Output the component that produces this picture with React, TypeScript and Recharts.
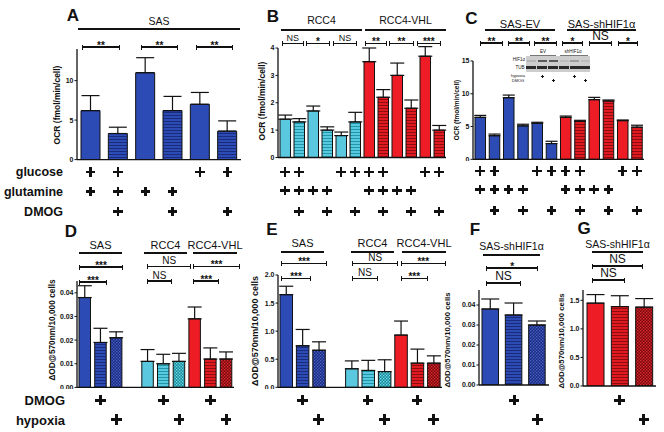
import React from "react"
import { BarChart, Bar, XAxis, YAxis, ErrorBar, Cell } from "recharts"

const FONT = "'Liberation Sans', Arial, Helvetica, sans-serif"

// ---- data ----
// A: SAS OCR (fmol/min/cell)
const aMeans = [6.2, 3.3, 11.0, 6.2, 7.0, 3.6]
const aTops = [8.1, 4.1, 12.9, 8.0, 8.5, 4.9]
// B: RCC4 (6) then RCC4-VHL (6)
const bMeans = [1.4, 1.3, 1.7, 1.0, 0.8, 1.3, 3.5, 2.2, 3.0, 1.8, 3.7, 1.0]
const bTops = [1.55, 1.42, 1.88, 1.12, 0.93, 1.65, 4.0, 2.48, 3.45, 2.1, 4.05, 1.17]
// C: SAS-EV (6) then SAS-shHIF1a (6)
const cMeans = [6.4, 3.6, 9.4, 5.1, 5.5, 2.4, 6.4, 5.8, 9.1, 8.9, 5.9, 4.9]
const cTops = [6.7, 3.85, 9.8, 5.35, 5.65, 2.75, 6.6, 5.95, 9.45, 9.05, 6.0, 5.2]
// D/E: SAS, gap, RCC4, RCC4-VHL
const dMeans = [0.038, 0.019, 0.021, null, 0.011, 0.010, 0.011, 0.029, 0.012, 0.012]
const dTops = [0.043, 0.025, 0.0235, null, 0.016, 0.014, 0.0144, 0.034, 0.0167, 0.015]
const eMeans = [1.65, 0.74, 0.66, null, 0.33, 0.30, 0.28, 0.93, 0.43, 0.43]
const eTops = [1.80, 1.03, 0.81, null, 0.47, 0.48, 0.49, 1.18, 0.68, 0.56]
// F/G: SAS-shHIF1a
const fMeans = [0.038, 0.035, 0.030]
const fTops = [0.043, 0.041, 0.032]
const gMeans = [1.45, 1.39, 1.38]
const gTops = [1.60, 1.58, 1.53]

// condition rows
const glucoseA = ["+", "+", "", "", "+", "+"]
const glutamineA = ["+", "+", "+", "+", "", ""]
const dmogA = ["", "+", "", "+", "", "+"]
const glucoseBC = [...glucoseA, ...glucoseA]
const glutamineBC = [...glutamineA, ...glutamineA]
const dmogBC = [...dmogA, ...dmogA]
const dmogDE = ["", "+", "", "", "", "+", "", "", "+", ""]
const hypoxiaDE = ["", "", "+", "", "", "", "+", "", "", "+"]
const dmogFG = ["", "+", ""]
const hypoxiaFG = ["", "", "+"]

// ---- styles ----
const BLUE = "#2c4bb4"
const CYAN = "#5ac8de"
const RED = "#ee1d25"
const hB = "url(#hBlue)", dB = "url(#dBlue)"
const hC = "url(#hCyan)", dC = "url(#dCyan)"
const hR = "url(#hRed)", dR = "url(#dRed)"

const fillsA = [BLUE, hB, BLUE, hB, BLUE, hB]
const fillsB = [CYAN, hC, CYAN, hC, CYAN, hC, RED, hR, RED, hR, RED, hR]
const fillsC = [BLUE, BLUE, BLUE, BLUE, BLUE, BLUE, RED, hR, RED, hR, RED, hR]
const fillsDE = [BLUE, hB, dB, "none", CYAN, hC, dC, RED, hR, dR]
const fillsF = [BLUE, hB, dB]
const fillsG = [RED, hR, dR]

type Geo = { l: number; t: number; r: number; b: number; n: number }
const gA: Geo = { l: 77, t: 49.4, r: 241, b: 160, n: 6 }
const gB: Geo = { l: 278, t: 48, r: 446, b: 157.5, n: 12 }
const gC: Geo = { l: 473, t: 60.7, r: 644, b: 159, n: 12 }
const gD: Geo = { l: 77, t: 280.9, r: 234, b: 387.3, n: 10 }
const gE: Geo = { l: 277.7, t: 275, r: 441.7, b: 387.3, n: 10 }
const gF: Geo = { l: 479, t: 290, r: 549, b: 385, n: 3 }
const gG: Geo = { l: 583, t: 290, r: 656, b: 386, n: 3 }

const cx = (g: Geo, i: number) => g.l + ((i + 0.5) * (g.r - g.l)) / g.n

function Panel(props: {
  g: Geo
  means: (number | null)[]
  tops: (number | null)[]
  fills: string[]
  domain: [number, number]
  ticks: number[]
  digits: number
  barSize: number
  cap: number
}) {
  const { g, means, tops, fills, domain, ticks, digits, barSize, cap } = props
  const YW = 30
  const MT = 8
  const data = means.map((m, i) => ({
    k: "c" + i,
    v: m,
    e: m == null || tops[i] == null ? undefined : [0, (tops[i] as number) - m],
  }))
  return (
    <div style={{ position: "absolute", left: g.l - YW, top: g.t - MT }}>
      <BarChart
        width={YW + g.r - g.l + 4}
        height={MT + g.b - g.t + 2}
        data={data}
        margin={{ top: MT, right: 4, left: 0, bottom: 0 }}
        style={{ overflow: "visible" }}
      >
        <XAxis
          dataKey="k"
          tick={false}
          tickLine={false}
          height={2}
          axisLine={{ stroke: "#111", strokeWidth: 1.3 }}
        />
        <YAxis
          width={YW}
          domain={domain}
          ticks={ticks}
          interval={0}
          allowDataOverflow
          tickSize={2.5}
          tickMargin={1}
          tickFormatter={(v: number) => v.toFixed(digits)}
          tick={{ fontSize: 7, fontWeight: 700, fill: "#111", fontFamily: FONT }}
          axisLine={{ stroke: "#111", strokeWidth: 1.3 }}
          tickLine={{ stroke: "#111", strokeWidth: 1 }}
        />
        <Bar dataKey="v" barSize={barSize} stroke="#111" strokeWidth={1} isAnimationActive={false}>
          {data.map((d, i) => (
            <Cell key={d.k} fill={fills[i]} />
          ))}
          <ErrorBar dataKey="e" width={cap} stroke="#111" strokeWidth={1.2} direction="y" isAnimationActive={false} />
        </Bar>
      </BarChart>
    </div>
  )
}

function Txt(p: { x: number; y: number; s: string; size?: number; bold?: boolean; rot?: boolean; align?: "c" | "r" }) {
  const tx = p.align === "r" ? "-100%" : "-50%"
  return (
    <div
      style={{
        position: "absolute",
        left: p.x,
        top: p.y,
        transform: `translate(${tx},-50%)${p.rot ? " rotate(-90deg)" : ""}`,
        transformOrigin: p.rot ? "50% 50%" : undefined,
        fontSize: p.size ?? 10,
        fontWeight: p.bold ? 700 : 400,
        lineHeight: 1,
        whiteSpace: "nowrap",
        color: "#111",
      }}
    >
      {p.s}
    </div>
  )
}

function Plus(p: { x: number; y: number; s?: number; w?: number }) {
  const s = p.s ?? 9.5
  const w = p.w ?? 2.6
  return (
    <>
      <div style={{ position: "absolute", left: p.x - s / 2, top: p.y - w / 2, width: s, height: w, background: "#111" }} />
      <div style={{ position: "absolute", left: p.x - w / 2, top: p.y - s / 2, width: w, height: s, background: "#111" }} />
    </>
  )
}

function Header(p: { x1: number; x2: number; y: number; s: string; ty: number; size?: number }) {
  return (
    <>
      <div style={{ position: "absolute", left: p.x1, top: p.y - 1.3, width: p.x2 - p.x1, height: 2.6, background: "#111" }} />
      <Txt x={(p.x1 + p.x2) / 2} y={p.ty} s={p.s} size={p.size ?? 10.5} />
    </>
  )
}

function Bracket(p: { x1: number; x2: number; y: number; s: string; size?: number }) {
  const star = p.s.includes("*")
  const size = p.size ?? (star ? 10 : 9)
  return (
    <>
      <div
        style={{
          position: "absolute",
          left: p.x1,
          top: p.y - 2.5,
          width: p.x2 - p.x1 - 2.4,
          height: 5,
          borderLeft: "1.2px solid #111",
          borderRight: "1.2px solid #111",
        }}
      >
        <div style={{ position: "absolute", left: 0, right: 0, top: 1.9, height: 1.2, background: "#111" }} />
      </div>
      <Txt x={(p.x1 + p.x2) / 2} y={star ? p.y - 1.5 : p.y - size * 0.55} s={p.s} size={size} bold={star} />
    </>
  )
}

function PlusRow(p: { g: Geo; marks: string[]; y: number; big?: boolean }) {
  return (
    <>
      {p.marks.map((m, i) =>
        m ? <Plus key={i} x={cx(p.g, i)} y={p.y} s={p.big ? 10.5 : 9.5} w={p.big ? 3 : 2.6} /> : null
      )}
    </>
  )
}

function Blot() {
  const lanes = [531, 542, 553, 564, 574.5, 585]
  const hif = [0.15, 0.75, 0.75, 0.1, 0.3, 0.1]
  return (
    <>
      <Txt x={543} y={52} s="EV" size={4.5} />
      <Txt x={573} y={52} s="shHIF1α" size={4.5} />
      <div style={{ position: "absolute", left: 530, top: 55, width: 26, height: 0.6, background: "#777" }} />
      <div style={{ position: "absolute", left: 560, top: 55, width: 28, height: 0.6, background: "#777" }} />
      <div style={{ position: "absolute", left: 526, top: 56, width: 64, height: 16, background: "#cdcdcd" }} />
      {lanes.map((x, i) => (
        <div
          key={"h" + i}
          style={{ position: "absolute", left: x - 4.5, top: 59.5, width: 9, height: 2, background: "#333", opacity: hif[i] }}
        />
      ))}
      {lanes.map((x, i) => (
        <div key={"t" + i} style={{ position: "absolute", left: x - 5, top: 66, width: 10, height: 3, background: "#2a2a2a" }} />
      ))}
      <Txt x={519} y={60} s="HIF1α" size={4.5} />
      <Txt x={520} y={67.5} s="TUB" size={4.5} />
      <Txt x={518} y={76} s="hypoxia" size={4} />
      <Txt x={518} y={80.5} s="DMOG" size={4} />
      <Plus x={542} y={76} s={3} w={0.9} />
      <Plus x={574.5} y={76} s={3} w={0.9} />
      <Plus x={553} y={80.5} s={3} w={0.9} />
      <Plus x={585} y={80.5} s={3} w={0.9} />
    </>
  )
}

function Patterns() {
  const stripe = (id: string, bg: string, fg: string) => (
    <pattern id={id} width="4" height="3" patternUnits="userSpaceOnUse">
      <rect width="4" height="3" fill={bg} />
      <rect y="2" width="4" height="1" fill={fg} />
    </pattern>
  )
  const dots = (id: string, bg: string, fg: string) => (
    <pattern id={id} width="3" height="3" patternUnits="userSpaceOnUse">
      <rect width="3" height="3" fill={bg} />
      <rect width="1.3" height="1.3" fill={fg} />
      <rect x="1.5" y="1.5" width="1.3" height="1.3" fill={fg} />
    </pattern>
  )
  return (
    <svg width={0} height={0} style={{ position: "absolute" }}>
      <defs>
        {stripe("hBlue", BLUE, "#1a2b7c")}
        {dots("dBlue", "#1a2a7e", "#4a66cc")}
        {stripe("hCyan", CYAN, "#1e98a8")}
        {dots("dCyan", "#128c9a", "#7fdcec")}
        {stripe("hRed", "#e01a20", "#8c0d10")}
        {dots("dRed", "#7a0a0e", "#e42a30")}
      </defs>
    </svg>
  )
}

export default function App() {
  return (
    <div
      style={{
        position: "absolute",
        left: 0,
        top: 0,
        width: 664,
        height: 432,
        background: "#fff",
        fontFamily: FONT,
        overflow: "hidden",
      }}
    >
      <Patterns />

      {/* panel letters */}
      <Txt x={73} y={15} s="A" size={17} bold />
      <Txt x={273} y={16} s="B" size={17} bold />
      <Txt x={471.5} y={18} s="C" size={17} bold />
      <Txt x={71} y={231} s="D" size={17} bold />
      <Txt x={272} y={229} s="E" size={17} bold />
      <Txt x={475} y={229} s="F" size={17} bold />
      <Txt x={584} y={228} s="G" size={17} bold />

      {/* ---- A ---- */}
      <Panel g={gA} means={aMeans} tops={aTops} fills={fillsA} domain={[0, 14]} ticks={[0, 5, 10]} digits={0} barSize={19} cap={9} />
      <Txt x={56.5} y={105} s="OCR (fmol/min/cell)" size={8.5} bold rot />
      <Header x1={78} x2={240} y={29} ty={20.5} s="SAS" size={10.5} />
      <Bracket x1={82} x2={120} y={47} s="**" />
      <Bracket x1={141} x2={178} y={47} s="**" />
      <Bracket x1={196} x2={233} y={47} s="**" />
      <Txt x={63} y={172} s="glucose" size={12.5} bold align="r" />
      <Txt x={63} y={192} s="glutamine" size={12.5} bold align="r" />
      <Txt x={63} y={211.5} s="DMOG" size={12.5} bold align="r" />
      <PlusRow g={gA} marks={glucoseA} y={172} />
      <PlusRow g={gA} marks={glutamineA} y={191.5} />
      <PlusRow g={gA} marks={dmogA} y={211.5} />

      {/* ---- B ---- */}
      <Panel g={gB} means={bMeans} tops={bTops} fills={fillsB} domain={[0, 4]} ticks={[0, 1, 2, 3, 4]} digits={0} barSize={10.5} cap={7} />
      <Txt x={261.5} y={101} s="OCR (fmol/min/cell)" size={8.5} bold rot />
      <Header x1={281} x2={362} y={30} ty={20} s="RCC4" />
      <Header x1={365} x2={446} y={30} ty={20} s="RCC4-VHL" />
      <Bracket x1={281.5} x2={304} y={43.3} s="NS" />
      <Bracket x1={306} x2={330} y={43.3} s="*" />
      <Bracket x1={333} x2={357} y={43.3} s="NS" />
      <Bracket x1={365} x2={387} y={43.3} s="**" />
      <Bracket x1={389} x2={414} y={43.3} s="**" />
      <Bracket x1={416.5} x2={441} y={43.3} s="***" />
      <PlusRow g={gB} marks={glucoseBC} y={172} />
      <PlusRow g={gB} marks={glutamineBC} y={190.5} />
      <PlusRow g={gB} marks={dmogBC} y={211.5} />

      {/* ---- C ---- */}
      <Panel g={gC} means={cMeans} tops={cTops} fills={fillsC} domain={[0, 15]} ticks={[0, 5, 10, 15]} digits={0} barSize={10.5} cap={6} />
      <Txt x={457} y={110} s="OCR (fmol/min/cell)" size={6.5} bold rot />
      <Header x1={485} x2={555} y={30} ty={23.5} s="SAS-EV" size={11} />
      <Header x1={567} x2={636} y={30} ty={23.5} s="SAS-shHIF1α" size={11} />
      <Bracket x1={480} x2={503} y={43} s="**" />
      <Bracket x1={508} x2={530} y={43} s="**" />
      <Bracket x1={534} x2={557} y={43} s="**" />
      <Bracket x1={562} x2={583} y={43} s="*" />
      <Bracket x1={589} x2={612} y={43} s="NS" size={12} />
      <Bracket x1={618} x2={638} y={43} s="*" />
      <Blot />
      <PlusRow g={gC} marks={glucoseBC} y={171} />
      <PlusRow g={gC} marks={glutamineBC} y={189.5} />
      <PlusRow g={gC} marks={dmogBC} y={210.5} />

      {/* ---- D ---- */}
      <Panel g={gD} means={dMeans} tops={dTops} fills={fillsDE} domain={[0, 0.045]} ticks={[0, 0.01, 0.02, 0.03, 0.04]} digits={2} barSize={11.5} cap={7} />
      <Txt x={52} y={330} s="ΔOD@570nm/10,000 cells" size={8.3} bold rot />
      <Header x1={79} x2={122} y={253} ty={244.5} s="SAS" size={11} />
      <Header x1={144} x2={187} y={253} ty={244.5} s="RCC4" size={11} />
      <Header x1={193} x2={237} y={253} ty={244.5} s="RCC4-VHL" size={11} />
      <Bracket x1={79} x2={123} y={267} s="***" />
      <Bracket x1={79} x2={107} y={282} s="***" />
      <Bracket x1={147} x2={191.5} y={266.5} s="NS" size={10} />
      <Bracket x1={147} x2={172} y={281} s="NS" size={10} />
      <Bracket x1={193} x2={240} y={266.5} s="***" />
      <Bracket x1={193} x2={219.5} y={281} s="***" />
      <Txt x={65} y={400} s="DMOG" size={13} bold align="r" />
      <Txt x={65} y={419.5} s="hypoxia" size={13} bold align="r" />
      <PlusRow g={gD} marks={dmogDE} y={400} big />
      <PlusRow g={gD} marks={hypoxiaDE} y={419.5} big />

      {/* ---- E ---- */}
      <Panel g={gE} means={eMeans} tops={eTops} fills={fillsDE} domain={[0, 2]} ticks={[0, 0.5, 1, 1.5, 2]} digits={1} barSize={12.5} cap={7} />
      <Txt x={255} y={331} s="ΔOD@570nm/10,000 cells" size={9} bold rot />
      <Header x1={281} x2={324} y={252} ty={243} s="SAS" size={11} />
      <Header x1={351} x2={394} y={252} ty={243} s="RCC4" size={11} />
      <Header x1={402} x2={446} y={252} ty={243} s="RCC4-VHL" size={11} />
      <Bracket x1={281} x2={327} y={263.5} s="***" />
      <Bracket x1={281} x2={311} y={278.5} s="***" />
      <Bracket x1={352} x2={398.5} y={263.5} s="NS" size={10} />
      <Bracket x1={352} x2={378} y={278.5} s="NS" size={10} />
      <Bracket x1={400.5} x2={446} y={263.5} s="***" />
      <Bracket x1={400.5} x2={428} y={278.5} s="***" />
      <PlusRow g={gE} marks={dmogDE} y={400} big />
      <PlusRow g={gE} marks={hypoxiaDE} y={419.5} big />

      {/* ---- F ---- */}
      <Panel g={gF} means={fMeans} tops={fTops} fills={fillsF} domain={[0, 0.0475]} ticks={[0, 0.01, 0.02, 0.03, 0.04]} digits={2} barSize={16.5} cap={9} />
      <Txt x={448} y={340} s="ΔOD@570nm/10,000 cells" size={7.8} bold rot />
      <Header x1={483} x2={540} y={255} ty={246} s="SAS-shHIF1α" size={10.5} />
      <Bracket x1={486} x2={538.5} y={268} s="*" />
      <Bracket x1={486} x2={521} y={283} s="NS" size={12} />
      <PlusRow g={gF} marks={dmogFG} y={400} big />
      <PlusRow g={gF} marks={hypoxiaFG} y={419.5} big />

      {/* ---- G ---- */}
      <Panel g={gG} means={gMeans} tops={gTops} fills={fillsG} domain={[0, 1.68]} ticks={[0, 0.5, 1, 1.5]} digits={1} barSize={17} cap={9} />
      <Txt x={562} y={341} s="ΔOD@570nm/10,000 cells" size={7.8} bold rot />
      <Header x1={592} x2={643} y={252} ty={243.5} s="SAS-shHIF1α" size={10.5} />
      <Bracket x1={592} x2={643} y={266} s="NS" size={12} />
      <Bracket x1={592} x2={625} y={280} s="NS" size={12} />
      <PlusRow g={gG} marks={dmogFG} y={400} big />
      <PlusRow g={gG} marks={hypoxiaFG} y={419.5} big />
    </div>
  )
}
